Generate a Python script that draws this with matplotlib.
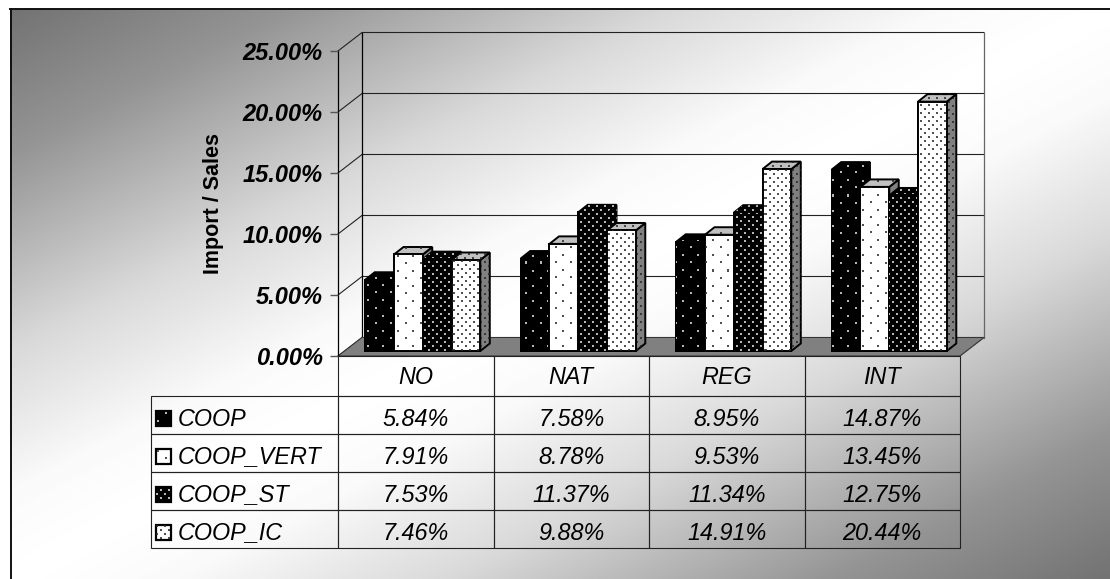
import numpy as np
import matplotlib
matplotlib.use("Agg")
import matplotlib.pyplot as plt
from matplotlib.patches import Polygon, Rectangle
from matplotlib.lines import Line2D
from matplotlib.table import Table
from matplotlib.transforms import Affine2D

categories = ["NO", "NAT", "REG", "INT"]
series_names = ["COOP", "COOP_VERT", "COOP_ST", "COOP_IC"]
coop = [5.84, 7.58, 8.95, 14.87]
coop_vert = [7.91, 8.78, 9.53, 13.45]
coop_st = [7.53, 11.37, 11.34, 12.75]
coop_ic = [7.46, 9.88, 14.91, 20.44]
y_ticks = [0, 5, 10, 15, 20, 25]

W, H = 1110, 579
plt.rcParams["font.family"] = ["Liberation Sans", "DejaVu Sans"]
fig = plt.figure(figsize=(W / 100, H / 100), dpi=100, facecolor="white")

# pixel layout of the plot box, measured from the top left
LEFT, RIGHT, TOP, BOTTOM = 338, 960, 51, 356
ax = fig.add_axes([LEFT / W, 1 - BOTTOM / H, (RIGHT - LEFT) / W, (BOTTOM - TOP) / H])
ax.patch.set_alpha(0)
ax.set_xlim(0, 4)
ax.set_ylim(0, 25)
px_x = 4 / (RIGHT - LEFT)
px_y = 25 / (BOTTOM - TOP)
pixels = Affine2D().scale(1, -1).translate(0, H)

# diagonal background, dark in two corners with a wide light band between
bg = fig.add_axes([10 / W, 0, 1 - 10 / W, 1 - 9 / H], zorder=-1)
xx, yy = np.meshgrid(np.linspace(0, 1, 550), np.linspace(0, 1, 285))
u = 1 - np.abs(xx + yy - 1)
shade = np.interp(u, [0, 0.25, 0.6, 0.85, 1], [0.45, 0.58, 0.85, 0.98, 1])
bg.imshow(shade, cmap="gray", vmin=0, vmax=1, aspect="auto", interpolation="bilinear")
bg.axis("off")
fig.add_artist(Line2D([10.5, 10.5], [H, 9], transform=pixels, color="#111111", lw=1.4))
fig.add_artist(Line2D([10, W], [9, 9], transform=pixels, color="#111111", lw=1.4))


def dot_texture(period, color):
    # staggered dot lattice covering the whole canvas, in RGBA
    y, x = np.mgrid[0:H, 0:W]
    half = period // 2 + period % 2
    mask = ((x % period < 2) & (y % period < 2)) | (((x + half) % period < 2) & ((y + half) % period < 2))
    tex = np.zeros((H, W, 4))
    tex[..., :3] = color
    tex[..., 3] = mask * 0.8
    return tex


fig.canvas.draw()
inv = ax.transData.inverted()
(x0, y0), (x1, y1) = inv.transform([(0, 0), (W, H)])
canvas_extent = (x0, x1, y0, y1)


def add_face(patch, tex, z):
    patch.set_zorder(z)
    patch.set_clip_on(False)
    ax.add_patch(patch)
    im = ax.imshow(tex, extent=canvas_extent, origin="lower", aspect="auto",
                   interpolation="nearest", zorder=z + 0.1)
    im.set_clip_path(patch)


sparse_w = dot_texture(15, 0.9)
sparse_k = dot_texture(15, 0.15)
dense_w = dot_texture(8, 0.9)
dense_k = dot_texture(8, 0.15)

values = [coop, coop_vert, coop_st, coop_ic]
front_cols = ["black", "white", "black", "white"]
top_cols = ["black", "#c0c0c0", "black", "#c0c0c0"]
side_cols = ["black", "#808080", "black", "#808080"]
textures = [sparse_w, sparse_k, dense_w, dense_k]

# depth of the plot box and of the bars, in data units
box_dx, box_dy = 24 * px_x, 18.5 * px_y
bar_dx, bar_dy = 9.5 * px_x, 7.5 * px_y
off_x, off_y = 7 * px_x, 5 * px_y
bar_w = 0.74 / 4

ax.add_patch(Polygon([(0, 0), (box_dx, box_dy), (4 + box_dx, box_dy), (4, 0)], closed=True,
                     facecolor="#808080", edgecolor="#333333", lw=0.7, clip_on=False, zorder=1))

wall_col = "#222222"
for v in y_ticks:
    ax.plot([0, box_dx, 4 + box_dx], [v, v + box_dy, v + box_dy], color=wall_col, lw=0.8,
            clip_on=False, zorder=0.5, solid_joinstyle="miter")
ax.plot([box_dx, box_dx], [box_dy, 25 + box_dy], color="black", lw=0.9, clip_on=False, zorder=0.5)
ax.plot([4 + box_dx, 4 + box_dx], [box_dy, 25 + box_dy], color="#666666", lw=0.9, clip_on=False, zorder=0.5)
ax.plot([4, 4 + box_dx], [0, box_dy], color="#444444", lw=0.7, clip_on=False, zorder=1.2)

z = 2
for g in range(len(categories)):
    for s in range(len(series_names)):
        xl = g + 0.5 + off_x + (s - 2) * bar_w
        xr = xl + bar_w
        low = off_y
        val = values[s][g] + low
        tex = textures[s]
        # side and top faces go first so the next bar can cover them
        side = Polygon([(xr, low), (xr + bar_dx, low + bar_dy), (xr + bar_dx, val + bar_dy), (xr, val)],
                       closed=True, facecolor=side_cols[s], edgecolor="black", lw=1.4)
        add_face(side, tex, z)
        lid = Polygon([(xl, val), (xl + bar_dx, val + bar_dy), (xr + bar_dx, val + bar_dy), (xr, val)],
                      closed=True, facecolor=top_cols[s], edgecolor="black", lw=1.4)
        add_face(lid, tex, z + 0.2)
        bar = ax.bar(xl, values[s][g], width=bar_w, bottom=low, align="edge",
                     facecolor=front_cols[s], edgecolor="black", lw=1.4)[0]
        add_face(bar, tex, z + 0.4)
        z += 1

ax.set_xlim(0, 4)
ax.set_ylim(0, 25)
for name in ["top", "right", "bottom"]:
    ax.spines[name].set_visible(False)
ax.spines["left"].set_linewidth(0.9)
ax.spines["left"].set_zorder(1.5)
ax.set_xticks([])
ax.set_yticks(y_ticks)
ax.set_yticklabels([f"{v:.2f}%" for v in y_ticks], fontsize=17, fontweight="bold", fontstyle="italic")
ax.tick_params(axis="y", length=5.8, width=1, color="#555555", pad=5)
ax.set_ylabel("Import / Sales", fontsize=15.5, fontweight="bold")
ax.yaxis.set_label_coords((224 - LEFT) / (RIGHT - LEFT), 0.5)

# data table below the plot; the bbox covers the value columns only
TBL_LEFT, TBL_BOTTOM = 151, 548
box_w = RIGHT - LEFT
box_h = BOTTOM - TOP
tbl = Table(ax, bbox=[0, (BOTTOM - TBL_BOTTOM) / box_h, 1, (TBL_BOTTOM - BOTTOM) / box_h])
col_w = 0.25
label_w = (LEFT - TBL_LEFT) / box_w
head_h = 40 / box_h
row_h = 38 / box_h
for c, name in enumerate(categories):
    tbl.add_cell(0, c, col_w, head_h, text=name, loc="center", facecolor="none")
for r, name in enumerate(series_names):
    cell = tbl.add_cell(r + 1, -1, label_w, row_h, text=name, loc="left", facecolor="none")
    cell.PAD = 0.144
    for c in range(len(categories)):
        tbl.add_cell(r + 1, c, col_w, row_h, text=f"{values[r][c]:.2f}%", loc="center", facecolor="none")
tbl.auto_set_font_size(False)
tbl.set_fontsize(16.8)
for (row, col), cell in tbl.get_celld().items():
    cell.set_linewidth(0.8)
    cell.set_edgecolor("#222222")
    cell.get_text().set_fontstyle("italic")
    # cell text sits a little below the middle of its row
    cell.get_text().set_transform(Affine2D().translate(0, -1 if row == 0 else -4))
tbl.set_zorder(1.6)
ax.add_table(tbl)

# legend keys sit in the first table column
key_rows = [418, 456, 494, 532]
for s, yc in enumerate(key_rows):
    key = Rectangle((155.5, yc - 7.5), 15, 15, transform=pixels, facecolor=front_cols[s],
                    edgecolor="black", lw=1.6)
    add_face(key, textures[s], 60 + s)

ax.set_xlim(0, 4)
ax.set_ylim(0, 25)
fig.savefig("out.png", dpi=100, facecolor="white")
